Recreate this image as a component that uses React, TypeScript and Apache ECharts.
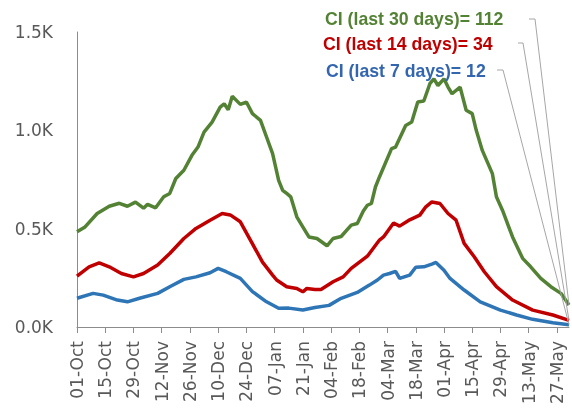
import React, { useEffect, useRef } from "react";
import * as echarts from "echarts";

// x = days since 01-Oct
const TICK_LABELS = [
  "01-Oct", "15-Oct", "29-Oct", "12-Nov", "26-Nov", "10-Dec", "24-Dec", "07-Jan", "21-Jan",
  "04-Feb", "18-Feb", "04-Mar", "18-Mar", "01-Apr", "15-Apr", "29-Apr", "13-May", "27-May",
];
const TICK_STEP = 14;
const END_DAY = 244;
const Y_TICKS = [0, 500, 1000, 1500];

const DAYS_30 = [0,4,10,16,21,25,29,33,35,39,43,46,49,53,57,60,63,67,71,73,75,77,81,84,87,91,94,97,100,102,104,106,109,111,115,119,124,127,131,136,139,142,144,146,148,150,156,158,163,166,169,172,175,177,179,182,184,186,190,193,196,198,201,206,208,211,216,221,225,230,235,240,244];
const CI_30 = [484,509,577,614,629,614,635,604,624,606,662,679,755,797,873,915,991,1042,1118,1135,1105,1173,1132,1144,1085,1051,966,882,746,695,679,662,560,526,458,450,413,450,460,518,526,590,619,628,712,763,907,915,1025,1042,1144,1149,1237,1262,1228,1262,1220,1186,1220,1102,1085,1000,898,780,662,594,458,349,306,247,205,171,112];

const DAYS_14 = [0,6,11,16,22,28,33,40,46,53,59,66,72,76,81,86,92,97,99,104,109,112,114,118,121,127,132,136,144,150,152,157,160,165,170,173,176,180,184,188,192,197,202,208,216,226,236,244];
const CI_14 = [259,306,326,306,272,255,272,315,374,450,501,543,577,570,535,442,330,264,239,205,196,179,196,191,191,230,255,298,360,442,458,529,513,545,569,611,636,628,577,543,425,357,281,205,137,86,61,34];

const DAYS_7 = [0,8,13,20,25,31,40,46,53,59,66,70,74,81,87,94,100,105,112,118,125,131,139,145,149,152,155,158,160,165,168,172,176,178,182,185,192,200,210,218,226,236,244];
const CI_7 = [146,171,162,137,128,146,171,205,242,255,276,298,281,247,180,128,95,96,86,99,110,146,176,213,239,264,272,283,247,264,304,306,320,328,289,247,188,128,86,61,39,22,12];

const SERIES = [
  { window: 30, days: DAYS_30, vals: CI_30, line: "#548235", text: "#548235", tx: 325, ty: 19, elbow: [[529, 19], [535, 19]] },
  { window: 14, days: DAYS_14, vals: CI_14, line: "#c00000", text: "#c00000", tx: 323, ty: 44, elbow: [[518, 43], [523, 43]] },
  { window: 7, days: DAYS_7, vals: CI_7, line: "#2e75b6", text: "#3466b0", tx: 326, ty: 71, elbow: [[497, 70], [503, 70]] },
];

export default function App() {
  const ref = useRef<HTMLDivElement>(null);
  useEffect(() => {
    const chart = echarts.init(ref.current!, null, { renderer: "svg" });
    const tickDays = TICK_LABELS.map((_, i) => i * TICK_STEP);
    chart.setOption({
      animation: false,
      grid: { left: 77, right: 3, top: 32, bottom: 81 },
      xAxis: {
        type: "value",
        min: 0,
        max: END_DAY,
        interval: TICK_STEP,
        axisLine: { show: true, lineStyle: { color: "#8c8c8c", width: 1 } },
        axisTick: { show: true, length: 6, lineStyle: { color: "#8c8c8c" }, customValues: tickDays },
        axisLabel: {
          customValues: tickDays,
          rotate: 90,
          margin: 14,
          color: "#595959",
          fontSize: 17,
          fontFamily: "DejaVu Sans",
          formatter: (v: number) => TICK_LABELS[Math.round(v / TICK_STEP)] ?? "",
        },
        splitLine: { show: false },
      },
      yAxis: {
        type: "value",
        min: 0,
        max: 1500,
        interval: 500,
        axisLine: { show: true, lineStyle: { color: "#8c8c8c", width: 1 } },
        axisTick: { show: false },
        axisLabel: {
          margin: 24,
          color: "#595959",
          fontSize: 17,
          fontFamily: "DejaVu Sans",
          formatter: (v: number) => (Y_TICKS.includes(v) ? (v / 1000).toFixed(1) + "K" : ""),
        },
        splitLine: { show: false },
      },
      series: SERIES.map((s) => ({
        type: "line",
        name: `CI ${s.window}`,
        data: s.days.map((d, i) => [d, s.vals[i]]),
        showSymbol: false,
        symbol: "none",
        lineStyle: { color: s.line, width: 3.5 },
        itemStyle: { color: s.line },
      })),
    });

    const graphics: any[] = [];
    SERIES.forEach((s) => {
      const last = s.vals[s.vals.length - 1];
      const end = chart.convertToPixel({ gridIndex: 0 }, [s.days[s.days.length - 1], last]) as number[];
      graphics.push({
        type: "polyline",
        z: 50,
        shape: { points: [...s.elbow, end] },
        style: { stroke: "#a6a6a6", lineWidth: 1, fill: null },
      });
      graphics.push({
        type: "text",
        z: 60,
        x: s.tx,
        y: s.ty,
        style: {
          text: `CI (last ${s.window} days)= ${last}`,
          fill: s.text,
          fontSize: 17.7,
          fontWeight: "bold",
          fontFamily: "Liberation Sans",
          verticalAlign: "middle",
          align: "left",
        },
      });
    });
    chart.setOption({ graphic: graphics });
    return () => chart.dispose();
  }, []);
  return <div ref={ref} style={{ position: "fixed", left: 0, top: 0, width: 572, height: 408 }} />;
}
